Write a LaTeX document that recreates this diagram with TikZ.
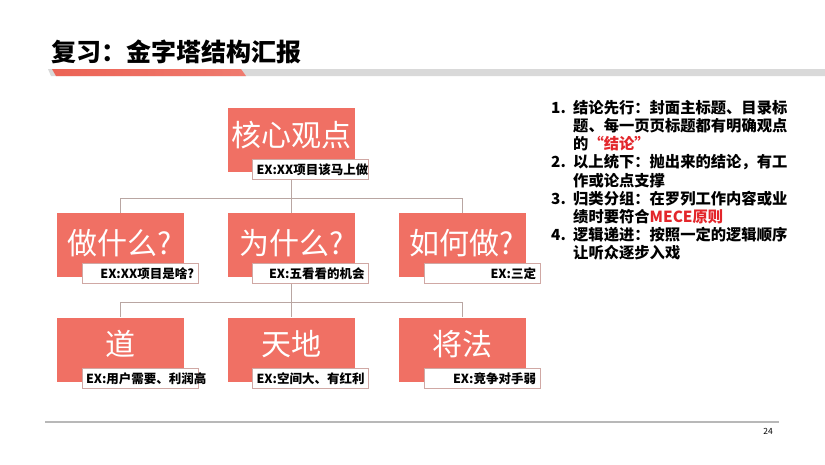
\documentclass[tikz,border=0pt]{standalone}
\usepackage{fontspec}
\setmainfont{Noto Sans CJK SC}
\definecolor{boxred}{HTML}{F07064}
\definecolor{txtred}{HTML}{E3262B}
\definecolor{labborder}{HTML}{D0A8A4}
\definecolor{conn}{HTML}{B9A6A2}
\definecolor{barred}{HTML}{EC6355}
\definecolor{bargray}{HTML}{D9D9D9}
\tikzset{
  bigbox/.style={rectangle, fill=boxred, minimum width=127pt, minimum height=64pt, inner sep=0pt},
  bigtext/.style={text=white, font=\fontsize{30}{32}\selectfont, inner sep=0pt},
  exlabel/.style={rectangle, draw=labborder, line width=0.8pt, fill=white, minimum height=20pt,
    text width=108pt, inner xsep=4pt, inner ysep=0pt, align=right,
    font=\bfseries\fontsize{12.5}{14}\selectfont},
  connline/.style={draw=conn, line width=0.9pt}
}
\begin{document}
\begin{tikzpicture}[x=1pt,y=-1pt]
\useasboundingbox (0,0) rectangle (825,464);
\fill[white] (0,0) rectangle (825,464);
% title
\node[anchor=west, inner sep=0pt, font=\bfseries\fontsize{25}{28}\selectfont] (title) at (51,52) {复习：金字塔结构汇报};
\fill[bargray] (48,69) -- (825,69) -- (825,76) -- (51,76) -- cycle;
\shade[left color=barred, right color=barred!85!white] (52,69) -- (241,69) -- (246,76) -- (56,76) -- cycle;
% row 1
\node[bigbox] (core) at (291.5,140) {};
\node[bigtext] (coret) at (291.5,135) {核心观点};
\node[exlabel] (lab0) at (310.5,169.5) {EX:XX项目该马上做};
% row 2
\node[bigbox] (b21) at (120,245) {};
\node[bigbox] (b22) at (291.5,245) {};
\node[bigbox] (b23) at (462,245) {};
\node[bigtext] (t21) at (120,243) {做什么?};
\node[bigtext] (t22) at (291.5,243) {为什么?};
\node[bigtext] (t23) at (462,243) {如何做?};
\node[exlabel] (lab21) at (140,273.5) {EX:XX项目是啥?};
\node[exlabel] (lab22) at (310.5,273.5) {EX:五看看的机会};
\node[exlabel] (lab23) at (482,273.5) {EX:三定};
% row 3
\node[bigbox] (b31) at (120,349.5) {};
\node[bigbox] (b32) at (291.5,349.5) {};
\node[bigbox] (b33) at (462,349.5) {};
\node[bigtext] (t31) at (120,344) {道};
\node[bigtext] (t32) at (291.5,344) {天地};
\node[bigtext] (t33) at (462,344) {将法};
\node[exlabel] (lab31) at (140,378.5) {EX:用户需要、利润高};
\node[exlabel] (lab32) at (310.5,378.5) {EX:空间大、有红利};
\node[exlabel] (lab33) at (482,378.5) {EX:竞争对手弱};
% connectors
\coordinate (j1) at (291.5,198);
\coordinate (j2) at (291.5,302);
\draw[connline] (lab0.south -| core.center) -- (j1);
\draw[connline] (j1) -| (b21.north);
\draw[connline] (j1) -| (b23.north);
\draw[connline] (j1) -- (b22.north);
\draw[connline] (lab22.south -| b22.center) -- (j2);
\draw[connline] (j2) -| (b31.north);
\draw[connline] (j2) -| (b33.north);
\draw[connline] (j2) -- (b32.north);
% right text
\node[anchor=north west, inner sep=0pt, align=left, font=\bfseries\fontsize{15.3}{18.2}\selectfont] (notes) at (551,100) {%
\makebox[22pt][l]{1.}结论先行：封面主标题、目录标\\
\hspace*{22pt}题、每一页页标题都有明确观点\\
\hspace*{22pt}的\textcolor{txtred}{“结论”}\\
\makebox[22pt][l]{2.}以上统下：抛出来的结论，有工\\
\hspace*{22pt}作或论点支撑\\
\makebox[22pt][l]{3.}归类分组：在罗列工作内容或业\\
\hspace*{22pt}绩时要符合\textcolor{txtred}{MECE原则}\\
\makebox[22pt][l]{4.}逻辑递进：按照一定的逻辑顺序\\
\hspace*{22pt}让听众逐步入戏};
% footer
\coordinate (fl) at (45,422);
\coordinate (fr) at (779,422);
\draw[draw=black!28, line width=1.4pt] (fl) -- (fr);
\node[inner sep=0pt, font=\fontsize{8.5}{10}\selectfont] (pagenum) at (768,431) {24};
\end{tikzpicture}
\end{document}
